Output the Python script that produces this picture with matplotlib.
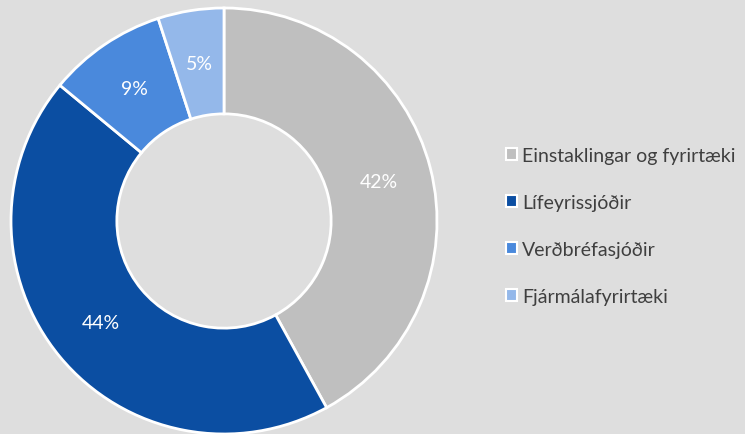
import matplotlib.pyplot as plt
from matplotlib.patches import Patch

plt.rcParams['font.family'] = ['Lato', 'DejaVu Sans']

# data
categories = ['Einstaklingar og fyrirtæki', 'Lífeyrissjóðir', 'Verðbréfasjóðir', 'Fjármálafyrirtæki']
shares = [42, 44, 9, 5]
colors = ['#bfbfbf', '#0b4ea2', '#4a89dc', '#94b8ea']
bg = '#dedede'

fig = plt.figure(figsize=(7.45, 4.35), dpi=100, facecolor=bg)
ax = fig.add_axes([11 / 745, 0 / 435, 426 / 745, 426 / 435])
ax.set_facecolor(bg)

wedges, texts, autotexts = ax.pie(
    shares,
    colors=colors,
    startangle=90,
    counterclock=False,
    radius=1.0,
    autopct='%d%%',
    pctdistance=0.75,
    wedgeprops=dict(width=0.497, edgecolor='white', linewidth=2),
    textprops=dict(color='white', fontsize=14),
)
ax.set_xlim(-1.0, 1.0)
ax.set_ylim(-1.0, 1.0)
ax.set_aspect('equal')
ax.axis('off')

handles = [Patch(facecolor=c, edgecolor='white', linewidth=1.5) for c in colors]
fig.legend(
    handles, categories,
    loc='center left',
    bbox_to_anchor=(506 / 745, 1 - 227 / 435),
    frameon=False,
    borderpad=0,
    borderaxespad=0,
    fontsize=14,
    labelcolor='#3f3f3f',
    handlelength=0.55,
    handleheight=0.55,
    handletextpad=0.28,
    labelspacing=1.55,
)

fig.savefig('out.png', dpi=100, facecolor=bg)
